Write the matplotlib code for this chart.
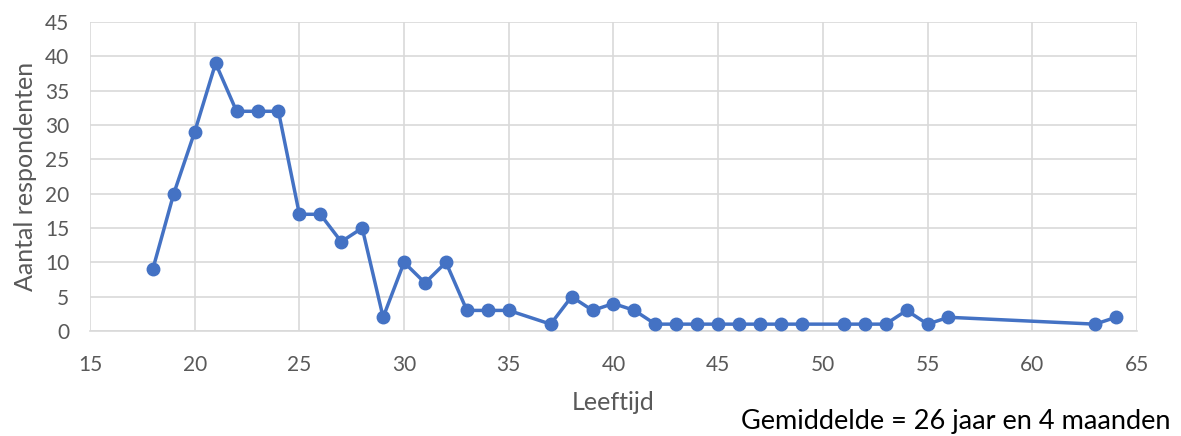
import matplotlib.pyplot as plt

# Leeftijd van de respondenten en het aantal per leeftijd
leeftijd = [18, 19, 20, 21, 22, 23, 24, 25, 26, 27, 28, 29, 30, 31, 32, 33, 34, 35,
            37, 38, 39, 40, 41, 42, 43, 44, 45, 46, 47, 48, 49, 51, 52, 53, 54, 55,
            56, 63, 64]
aantal = [9, 20, 29, 39, 32, 32, 32, 17, 17, 13, 15, 2, 10, 7, 10, 3, 3, 3,
          1, 5, 3, 4, 3, 1, 1, 1, 1, 1, 1, 1, 1, 1, 1, 1, 3, 1,
          2, 1, 2]

x_ticks = list(range(15, 66, 5))
y_ticks = list(range(0, 46, 5))

plt.rcParams['font.family'] = ['Lato', 'DejaVu Sans']

fig = plt.figure(figsize=(11.81, 4.36), dpi=100)
ax = fig.add_axes([0.0762, 0.2408, 0.8865, 0.7087])

ax.plot(leeftijd, aantal, color='#4472C4', linewidth=2.5, marker='o',
        markersize=9, zorder=3)

ax.set_xlim(15, 65)
ax.set_ylim(0, 45)
ax.set_xticks(x_ticks)
ax.set_yticks(y_ticks)
ax.grid(True, color='#D9D9D9', linewidth=1.2)
ax.set_axisbelow(True)
for side in ['top', 'right', 'left']:
    ax.spines[side].set_visible(False)
ax.spines['bottom'].set_color('#D9D9D9')
ax.spines['bottom'].set_linewidth(1.2)
ax.tick_params(axis='x', length=0, labelsize=15, labelcolor='#595959', pad=17)
ax.tick_params(axis='y', length=0, labelsize=15, labelcolor='#595959', pad=15)

ax.set_xlabel('Leeftijd', fontsize=18, color='#595959', labelpad=12)
ax.set_ylabel('Aantal respondenten', fontsize=18, color='#595959', labelpad=6)

fig.text(0.991, 0.005, 'Gemiddelde = 26 jaar en 4 maanden', ha='right',
         va='bottom', fontsize=19.5, color='black')

plt.savefig('out.png', dpi=100)
